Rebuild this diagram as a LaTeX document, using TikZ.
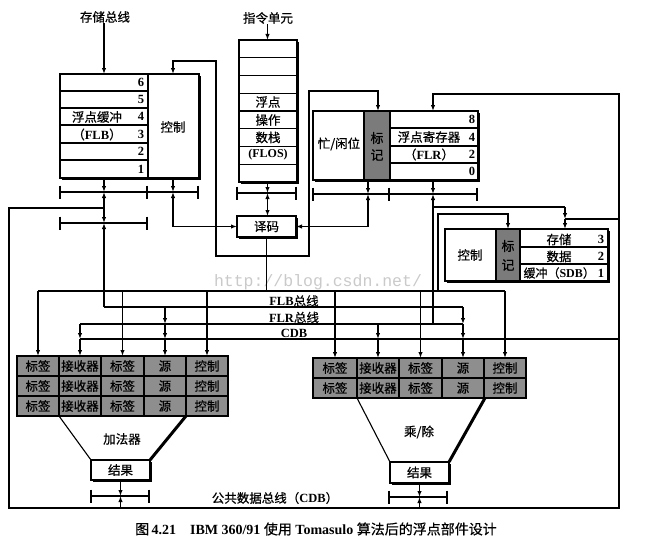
\documentclass[tikz,border=0pt]{standalone}
\usepackage{fontspec}
\setmainfont{Liberation Serif}
\newfontfamily\cjk{Noto Sans CJK SC}[FakeBold=0.6]
\newfontfamily\wmfont{Liberation Mono}
\usetikzlibrary{arrows.meta,shadows}
\definecolor{cellgray}{HTML}{8E8E8E}
\definecolor{taggray}{HTML}{7B7B7B}
\definecolor{wmgray}{HTML}{CACACA}
\newcommand\lat[1]{{\rmfamily\bfseries #1}}
\newcommand\busbar[4]{%
  \draw[barline] (#2,#1) -- (#3,#1);
  \foreach \tk in {#4} {\draw[barline] (\tk,#1-6.5) -- (\tk,#1+6.5);}}
\begin{document}
\begin{tikzpicture}[x=1pt,y=-1pt,line width=1.1pt,
  >={Latex[length=6pt,width=4.4pt]},
  box/.style={draw,fill=white,inner sep=0pt,outer sep=0pt,anchor=north west,
    drop shadow={shadow xshift=2.3pt,shadow yshift=-2.3pt,opacity=1,fill=black}},
  tbl/.style={draw,fill=cellgray,inner sep=0pt,outer sep=0pt,anchor=north west},
  tagbox/.style={draw,fill=taggray,inner sep=0pt,outer sep=0pt,anchor=north west},
  barline/.style={line width=2.5pt},
  funnelthick/.style={line width=3pt},
  lbl/.style={font=\cjk\fontsize{12.5}{14}\selectfont,inner sep=0pt},
  num/.style={font=\rmfamily\bfseries\fontsize{12.5}{14}\selectfont,inner sep=0pt},
  cell/.style={font=\cjk\fontsize{12.5}{14}\selectfont,inner sep=0pt},
]
\fill[white] (0,0) rectangle (647,543);
\useasboundingbox (0,0) rectangle (647,543);

% ---------- reference coordinates ----------
\coordinate (cS) at (104,0);
\coordinate (cC) at (173,0);
\coordinate (cO) at (267.5,0);
\coordinate (cT) at (368,0);
\coordinate (cTT) at (378,0);
\coordinate (cR) at (433,0);
\coordinate (cQ) at (438,0);
\coordinate (cSD) at (508,0);
\coordinate (cSR) at (565,0);
\coordinate (xL) at (9,0);
\coordinate (xR) at (619,0);
\coordinate (yTop) at (0,291);
\coordinate (yFLB) at (0,307);
\coordinate (yFLR) at (0,324);
\coordinate (yCDB) at (0,339);
\coordinate (yBot) at (0,508);

% ---------- watermark ----------
\node[font=\wmfont\fontsize{16.5}{18}\selectfont,text=wmgray,inner sep=0pt] (wm) at (318,282) {http://blog.csdn.net/};

% ---------- FLB ----------
\node[lbl] (cunchu) at (105,17) {存储总线};
\node[box,minimum width=139pt,minimum height=104pt] (flb) at (60,74) {};
\draw (148,74) -- (148,178);
\foreach \yy in {91,108,125,143,160} {\draw (60,\yy) -- (148,\yy);}
\foreach \n/\yy in {6/82.5,5/99.5,4/116.5,3/134,2/151.5,1/169} {\node[num] (flbn\n) at (141,\yy) {\n};}
\node[lbl] (flbname) at (97,117) {浮点缓冲};
\node[lbl] (flbabbr) at (97,134.5) {（\lat{FLB}）};
\node[lbl] (flbctl) at (173,127) {控制};

\busbar{192}{60}{198}{60,147,198}
\busbar{223}{60}{147}{60,147}
\coordinate (b1s) at (104,192);
\coordinate (b2s) at (104,223);
\coordinate (b1c) at (173,192);

% ---------- FLOS ----------
\node[lbl] (zhiling) at (268,18) {指令单元};
\node[box,minimum width=58pt,minimum height=142pt] (flos) at (239,40) {};
\foreach \yy in {57.75,75.5,93.25,111,128.75,146.5,164.25} {\draw (239,\yy) -- (297,\yy);}
\node[lbl] (flos1) at (268,102) {浮点};
\node[lbl] (flos2) at (268,120) {操作};
\node[lbl] (flos3) at (268,137.5) {数栈};
\node[num,font=\rmfamily\bfseries\fontsize{12}{14}\selectfont] (flos4) at (268,155) {(FLOS)};
\busbar{193}{237}{296}{237,296}
\coordinate (b4o) at (267.5,193);

% ---------- decoder ----------
\node[box,minimum width=59pt,minimum height=21pt,font=\cjk\fontsize{12.5}{14}\selectfont] (dec) at (237,216) {译码};

% ---------- FLR ----------
\node[box,minimum width=165pt,minimum height=69pt] (flr) at (313,111) {};
\node[tagbox,minimum width=26pt,minimum height=69pt] (flrtag) at (364,111) {};
\foreach \yy in {128,146,163} {\draw (390,\yy) -- (478,\yy);}
\foreach \n/\yy in {8/119.5,4/137,2/154.5,0/171.5} {\node[num] (flrn\n) at (472,\yy) {\n};}
\node[lbl] (flrname) at (429,137) {浮点寄存器};
\node[lbl] (flrabbr) at (429,154.5) {（\lat{FLR}）};
\node[lbl] (busy) at (339,144) {忙/闲位};
\node[lbl,font=\cjk\fontsize{13}{14}\selectfont] (flrtag1) at (377,138) {标};
\node[lbl,font=\cjk\fontsize{13}{14}\selectfont] (flrtag2) at (377,155) {记};
\busbar{194}{313}{477}{313,389,477}
\coordinate (b3t) at (368,194);
\coordinate (b3r) at (433,194);

% ---------- SDB ----------
\node[box,minimum width=163pt,minimum height=52pt] (sdb) at (445,229) {};
\node[tagbox,minimum width=24pt,minimum height=52pt] (sdbtag) at (496,229) {};
\foreach \yy in {247,264} {\draw (520,\yy) -- (608,\yy);}
\node[lbl] (sdbctl) at (470,255) {控制};
\node[lbl,font=\cjk\fontsize{13}{14}\selectfont] (sdbtag1) at (508,246) {标};
\node[lbl,font=\cjk\fontsize{13}{14}\selectfont] (sdbtag2) at (508,265) {记};
\node[lbl] (sdbr3) at (559,239.5) {存储};
\node[lbl] (sdbr2) at (559,256.5) {数据};
\node[lbl,anchor=west,font=\cjk\fontsize{12}{14}\selectfont] (sdbr1) at (523,273) {缓冲（\lat{SDB}）};
\node[num] (sdbn3) at (601,239.5) {3};
\node[num] (sdbn2) at (601,256.5) {2};
\node[num] (sdbn1) at (601,273) {1};

% ---------- adder reservation stations ----------
\node[tbl,minimum width=211pt,minimum height=60pt] (add) at (17,356) {};
\foreach \xx in {59,101,144,186} {\draw (\xx,356) -- (\xx,416);}
\foreach \yy in {376,396} {\draw (17,\yy) -- (228,\yy);}
\foreach \r/\yy in {1/366,2/386,3/406} {
  \foreach \c/\xx/\txt in {1/38/标签,2/80/接收器,3/122.5/标签,4/165/源,5/207/控制} {
    \node[cell] (a\r\c) at (\xx,\yy) {\txt};
  }
}

% ---------- multiplier reservation stations ----------
\node[tbl,minimum width=213pt,minimum height=40pt] (mul) at (313,358) {};
\foreach \xx in {357,399,442,484} {\draw (\xx,358) -- (\xx,398);}
\draw (313,378) -- (526,378);
\foreach \r/\yy in {1/368,2/388} {
  \foreach \c/\xx/\txt in {1/335/标签,2/378/接收器,3/420.5/标签,4/463/源,5/505/控制} {
    \node[cell] (m\r\c) at (\xx,\yy) {\txt};
  }
}

% ---------- funnels and results ----------
\draw (59,416) -- (91,460);
\draw[funnelthick] (186,416) -- (150,460);
\node[lbl] (addname) at (122,439) {加法器};
\node[box,minimum width=59pt,minimum height=20pt,font=\cjk\fontsize{12.5}{14}\selectfont] (addres) at (91,460) {结果};
\busbar{496}{91}{149}{91,149}
\coordinate (addbar) at (120.5,496);

\draw (357,398) -- (390,462);
\draw[funnelthick] (485,398) -- (449,462);
\node[lbl] (mulname) at (419,432) {乘/除};
\node[box,minimum width=59pt,minimum height=21pt,font=\cjk\fontsize{12.5}{14}\selectfont] (mulres) at (390,462) {结果};
\busbar{497}{389}{447}{389,447}
\coordinate (mulbar) at (419.5,497);

\node[lbl] (cdbname) at (275,498) {公共数据总线（\lat{CDB}）};

% ---------- connectors: top part ----------
\draw[->] (cunchu.south -| cS) -- (flb.north -| cS);
\draw[->] (flb.south -| cS) -- (b1s);
\draw[<->] (b1s) -- (b2s);
\draw[->] (cS |- yFLB) -- (b2s);
\draw[->] (flb.south -| cC) -- (b1c);
\draw[<->] (b1c) -- (b1c |- dec.west) -- (dec.west);
\draw[<->] (flb.north -| cC) -- (173,61) -- (216,61) -- (216,256) -- (309,256) -- (309,91) -- (378,91) -- (flr.north -| cTT);

\draw[->] (zhiling.south -| cO) -- (flos.north -| cO);
\draw[->] (flos.south -| cO) -- (b4o);
\draw[<->] (b4o) -- (dec.north -| cO);
\draw (dec.south) -- (dec.south |- yTop);

\draw[->] (flr.south -| cT) -- (b3t);
\draw[<->] (b3t) -- (b3t |- dec.east) -- (dec.east);
\draw[->] (flr.south -| cR) -- (b3r);
\draw[->] (cR |- yFLR) -- (b3r);
\draw (433,207) -- (565,207);
\draw[->] (565,207) -- (565,219);
\draw (xR |- 0,219) -- (565,219);
\draw[->] (565,219) -- (sdb.north -| cSR);
\draw[->] (cQ |- yTop) -- (438,214) -- (508,214) -- (sdb.north -| cSD);

% outer CDB loop
\draw[->] (104,208) -- (xL |- 0,208) -- (xL |- yBot) -- (xR |- yBot) -- (xR |- 0,94) -- (cR |- 0,94) -- (flr.north -| cR);

% ---------- buses ----------
\draw (a11 |- yTop) -- (m15 |- yTop);
\draw (cS |- yFLB) -- (m14 |- yFLB);
\draw (a12 |- yFLR) -- (m14 |- yFLR);
\draw (a12 |- yCDB) -- (xR |- yCDB);
\node[lbl] (flbbusname) at (294,301) {\lat{FLB}总线};
\node[lbl] (flrbusname) at (294,317.5) {\lat{FLR}总线};
\node[num] (cdbbusname) at (294,333) {CDB};

% adder inputs
\draw[->] (a11 |- yTop) -- (add.north -| a11);
\draw[->] (a13 |- yTop) -- (add.north -| a13);
\draw[->] (a15 |- yTop) -- (add.north -| a15);
\draw[->] (a12 |- yFLR) -- (a12 |- yCDB);
\draw[->] (a12 |- yCDB) -- (add.north -| a12);
\draw[->] (a14 |- yFLB) -- (a14 |- yFLR);
\draw[->] (a14 |- yFLR) -- (a14 |- yCDB);
\draw[->] (a14 |- yCDB) -- (add.north -| a14);

% multiplier inputs
\draw[->] (m11 |- yTop) -- (mul.north -| m11);
\draw[->] (m13 |- yTop) -- (mul.north -| m13);
\draw[->] (m15 |- yTop) -- (mul.north -| m15);
\draw[->] (m12 |- yFLR) -- (m12 |- yCDB);
\draw[->] (m12 |- yCDB) -- (mul.north -| m12);
\draw[->] (m14 |- yFLB) -- (m14 |- yFLR);
\draw[->] (m14 |- yFLR) -- (m14 |- yCDB);
\draw[->] (m14 |- yCDB) -- (mul.north -| m14);

% results to CDB
\draw[->] (addres.south) -- (addbar);
\draw[->] (addres.south |- yBot) -- (addbar);
\draw[->] (mulres.south) -- (mulbar);
\draw[->] (mulres.south |- yBot) -- (mulbar);

% ---------- caption ----------
\node[font=\fontsize{14}{16}\selectfont,inner sep=0pt] (caption) at (316,529)
  {{\cjk 图}\,\textbf{4.21}\quad\textbf{IBM 360/91} {\cjk 使用} \textbf{Tomasulo} {\cjk 算法后的浮点部件设计}};
\end{tikzpicture}
\end{document}
